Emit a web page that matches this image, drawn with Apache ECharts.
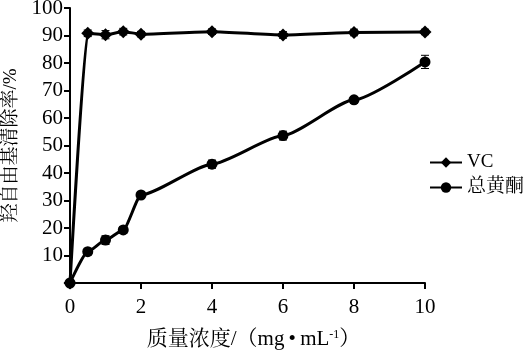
<!DOCTYPE html>
<html><head><meta charset="utf-8">
<script src="https://cdn.jsdelivr.net/npm/echarts@6/dist/echarts.min.js"></script>
<style>html,body{margin:0;padding:0;background:#fff}#c{width:526px;height:354px}</style>
</head><body><div id="c"></div>
<script>
var xValues = [0, 0.5, 1, 1.5, 2, 4, 6, 8, 10];
var vcValues = [0, 90.8, 90.3, 91.4, 90.5, 91.4, 90.2, 91.1, 91.3];
var vcErr = [0, 1.2, 1.5, 1.2, 1.0, 1.0, 1.2, 1.2, 1.0];
var tfValues = [0, 11.4, 15.6, 19.3, 32.0, 43.2, 53.6, 66.6, 80.4];
var tfErr = [0, 1.2, 1.6, 1.2, 0.8, 1.5, 1.6, 1.2, 2.4];
var xTicks = [0, 2, 4, 6, 8, 10];
var yTicks = [10, 20, 30, 40, 50, 60, 70, 80, 90, 100];

var serif = '"Liberation Serif","Noto Serif CJK SC","Noto Sans CJK SC",serif';
function pairs(ys){ return xValues.map(function(x,i){return [x, ys[i]];}); }
function errData(ys, es){ return xValues.map(function(x,i){return [x, ys[i]-es[i], ys[i]+es[i]];}); }
function errRender(params, api){
  var x = api.value(0), lo = api.value(1), hi = api.value(2);
  var p1 = api.coord([x, lo]), p2 = api.coord([x, hi]);
  var w = 4;
  var st = {stroke:'#000', lineWidth:1};
  return {type:'group', children:[
    {type:'line', shape:{x1:p1[0],y1:p1[1],x2:p2[0],y2:p2[1]}, style:st},
    {type:'line', shape:{x1:p1[0]-w,y1:p1[1],x2:p1[0]+w,y2:p1[1]}, style:st},
    {type:'line', shape:{x1:p2[0]-w,y1:p2[1],x2:p2[0]+w,y2:p2[1]}, style:st}
  ]};
}
var chart = echarts.init(document.getElementById('c'));
chart.setOption({
  animation:false,
  textStyle:{fontFamily:serif},
  grid:{left:70, right:101, top:8, bottom:71, containLabel:false, outerBoundsMode:'none'},
  legend:{
    orient:'vertical', left:424, top:148, itemWidth:32, itemHeight:13, itemGap:6,
    textStyle:{fontFamily:serif, fontSize:19, color:'#000'},
    data:['VC','总黄酮']
  },
  xAxis:{
    type:'value', min:0, max:10, interval:2,
    axisLine:{lineStyle:{color:'#000', width:2}},
    axisTick:{show:true, length:6, lineStyle:{color:'#000', width:2}},
    axisLabel:{color:'#000', fontSize:21, fontFamily:serif, margin:14,
      formatter:function(v){return xTicks.indexOf(v)>=0 ? String(v) : '';}},
    splitLine:{show:false},
    name:'{a|质量浓度/（mg\u2009•\u2009mL}{s|-1}{a|）}',
    nameLocation:'middle', nameGap:46,
    nameTextStyle:{padding:[0,0,0,12], rich:{a:{fontSize:21, fontFamily:serif, color:'#000'}, s:{fontSize:12, fontFamily:serif, color:'#000', verticalAlign:'top', padding:[0,0,9,0]}}}
  },
  yAxis:{
    type:'value', min:0, max:100, interval:10,
    axisLine:{show:true, lineStyle:{color:'#000', width:2}},
    axisTick:{show:true, length:6, lineStyle:{color:'#000', width:2}},
    axisLabel:{color:'#000', fontSize:21, fontFamily:serif, margin:7,
      formatter:function(v){return yTicks.indexOf(v)>=0 ? String(v) : '';}},
    splitLine:{show:false},
    name:'羟自由基清除率/%', nameLocation:'middle', nameGap:48,
    nameTextStyle:{fontSize:19, fontFamily:serif, color:'#000'}
  },
  series:[
    {name:'VC', type:'line', data:pairs(vcValues), smooth:0.2, smoothMonotone:'x',
     symbol:'diamond', symbolSize:13, lineStyle:{color:'#000', width:3}, itemStyle:{color:'#000'}, z:3},
    {name:'总黄酮', type:'line', data:pairs(tfValues), smooth:0.2, smoothMonotone:'x',
     symbol:'circle', symbolSize:11, lineStyle:{color:'#000', width:3}, itemStyle:{color:'#000'}, z:3},
    {type:'custom', renderItem:errRender, data:errData(vcValues, vcErr), encode:{x:0, y:[1,2]}, z:2},
    {type:'custom', renderItem:errRender, data:errData(tfValues, tfErr), encode:{x:0, y:[1,2]}, z:2}
  ]
});
</script></body></html>
